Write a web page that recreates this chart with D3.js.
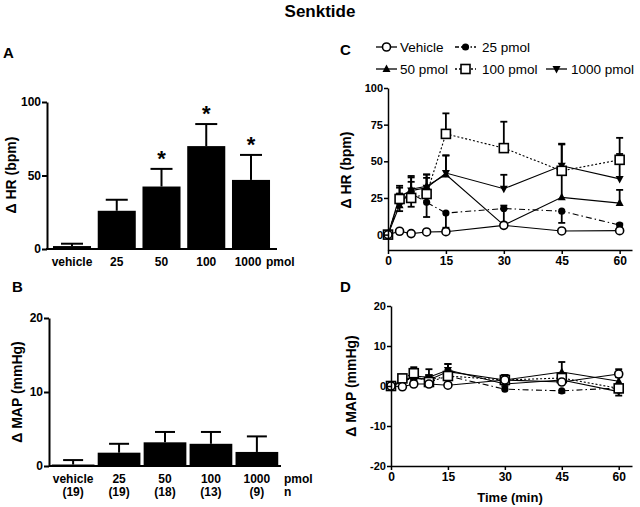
<!DOCTYPE html>
<html><head><meta charset="utf-8">
<script src="https://cdn.jsdelivr.net/npm/d3@7/dist/d3.min.js"></script>
<style>body{margin:0;background:#fff}svg{display:block;font-family:"Liberation Sans",Arial,sans-serif}</style>
</head><body><svg id="c" width="640" height="507"></svg>
<script>
// ---------- data ----------
const doseCats = ["vehicle", "25", "50", "100", "1000"];
const hrMean = [2, 26, 42.5, 70, 47];
const hrSem = [1.6, 7.5, 12, 15, 17];
const hrSig = [false, false, true, true, true];
const mapMean = [0.2, 1.8, 3.2, 3.0, 1.9];
const mapSem = [0.6, 1.2, 1.4, 1.6, 2.1];
const nLabels = ["(19)", "(19)", "(18)", "(13)", "(9)"];

const times = [0, 3, 6, 10, 15, 30, 45, 60];
const seriesNames = ["Vehicle", "25 pmol", "50 pmol", "100 pmol", "1000 pmol"];
// HR time course (signed error: negative = drawn downward)
const hrVehicle = [0, 2.3, 0.7, 1.8, 2, 6.3, 2.5, 2.7];
const hrVehicleErr = [0, 1, 1, 1.5, 1.5, 2, 1, 1];
const hr25 = [0, 22, 28, 22, 14.7, 17.8, 16, 6.5];
const hr25Err = [0, 6, 8, -10, -10, 2, -8, 1];
const hr50 = [0, 20, 31, 33, 41, 6.5, 25.4, 21.5];
const hr50Err = [0, -4, 8, 8, 13, 11, 17, 9];
const hr100 = [0, 24.3, 25, 27.7, 68.7, 59, 43.5, 51];
const hr100Err = [0, 9, -6, 11, 14, 18, 18, 15];
const hr1000 = [0, 26, 30, 32, 42, 31.3, 47, 38];
const hr1000Err = [0, 6, 10, 9, 12, 9.5, 15, 17];
// MAP time course
const mapVehicle = [0, -0.2, 0.5, 0.5, 0.2, 1.5, 1.0, 3.0];
const mapVehicleErr = [0, 0.5, 0.8, 0.8, 0.6, 1.2, 1.0, 1.2];
const map25 = [0, 1.2, 2.0, 1.5, 2.5, -0.8, -1.2, -0.5];
const map25Err = [0, 0.8, 1, 1, 1, 0.8, -0.5, 0.8];
const map50 = [0, 1.5, 2.2, 1.5, 3.6, 1.5, 3.5, 1.2];
const map50Err = [0, 0.8, 1, 1.2, 1.9, 1.2, 2.5, 1];
const map100 = [0, 1.9, 3.2, 1.0, 2.5, 1.5, 2.0, -0.6];
const map100Err = [0, 0.8, 1.5, 1.2, 1.5, 1.2, 1.2, -1];
const map1000 = [0, 1.0, 2.5, 2.2, 4.0, 0.5, 1.5, -1.4];
const map1000Err = [0, 0.8, 1.5, 2, 1.5, 1, 1.5, -1];

const hrTicksA = [0, 50, 100];
const mapTicksB = [0, 10, 20];
const hrTicksC = [0, 25, 50, 75, 100];
const mapTicksD = [-20, -10, 0, 10, 20];
const timeTicks = [0, 15, 30, 45, 60];

// ---------- setup ----------
const svg = d3.select("#c");
const fmt = d => String(d);
const styles = [
  {sym: "circleOpen", dash: null},
  {sym: "circleFilled", dash: "6,3,1.5,3"},
  {sym: "triUp", dash: null},
  {sym: "squareOpen", dash: "2,2"},
  {sym: "triDown", dash: null}
];
const hrSeries = [[hrVehicle, hrVehicleErr], [hr25, hr25Err], [hr50, hr50Err], [hr100, hr100Err], [hr1000, hr1000Err]];
const mapSeries = [[mapVehicle, mapVehicleErr], [map25, map25Err], [map50, map50Err], [map100, map100Err], [map1000, map1000Err]];

svg.append("text").attr("x", 320).attr("y", 17).attr("text-anchor", "middle")
  .attr("font-size", 17).attr("font-weight", "bold").text("Senktide");

function panelLabel(t, x, y) {
  svg.append("text").attr("x", x).attr("y", y).attr("font-size", 15).attr("font-weight", "bold").text(t);
}
function yTitle(t, x, y, fs) {
  svg.append("text").attr("transform", `translate(${x},${y}) rotate(-90)`).attr("text-anchor", "middle")
    .attr("font-size", fs).attr("font-weight", "bold").text(t);
}
function styleAxis(g, fs, sw) {
  g.selectAll("path.domain").attr("stroke", "#000").attr("stroke-width", sw);
  g.selectAll(".tick line").attr("stroke", "#000").attr("stroke-width", sw);
  g.selectAll(".tick text").attr("font-size", fs).attr("font-weight", "bold").attr("fill", "#000")
    .attr("font-family", "Liberation Sans, Arial, sans-serif");
}

// ---------- Panel A ----------
panelLabel("A", 3, 58);
const xA = d3.scaleBand().domain(doseCats).range([46, 277]).paddingInner(0.15).paddingOuter(0.156);
const yA = d3.scaleLinear().domain([0, 100]).range([249, 102]);
const gA = svg.append("g");
gA.selectAll("rect").data(doseCats).join("rect")
  .attr("x", d => xA(d)).attr("width", xA.bandwidth())
  .attr("y", (d, i) => yA(hrMean[i])).attr("height", (d, i) => yA(0) - yA(hrMean[i])).attr("fill", "#000");
doseCats.forEach((d, i) => {
  const cx = xA(d) + xA.bandwidth() / 2, hw = 11;
  gA.append("line").attr("x1", cx).attr("x2", cx).attr("y1", yA(hrMean[i])).attr("y2", yA(hrMean[i] + hrSem[i])).attr("stroke", "#000").attr("stroke-width", 2);
  gA.append("line").attr("x1", cx - hw).attr("x2", cx + hw).attr("y1", yA(hrMean[i] + hrSem[i])).attr("y2", yA(hrMean[i] + hrSem[i])).attr("stroke", "#000").attr("stroke-width", 2);
  if (hrSig[i]) gA.append("text").attr("x", cx).attr("y", yA(hrMean[i] + hrSem[i]) - 3).attr("text-anchor", "middle")
    .attr("font-size", 22).attr("font-weight", "bold").text("*");
  gA.append("text").attr("x", i === 4 ? cx - 3 : cx).attr("y", 266).attr("text-anchor", "middle").attr("font-size", 12).attr("font-weight", "bold").text(d);
});
gA.append("text").attr("x", 266).attr("y", 266).attr("font-size", 12).attr("font-weight", "bold").text("pmol");
const axA = svg.append("g").attr("transform", "translate(47,0)").call(d3.axisLeft(yA).tickValues(hrTicksA).tickFormat(fmt).tickSize(5).tickSizeOuter(0).tickPadding(1));
styleAxis(axA, 12, 2);
svg.append("line").attr("x1", 46).attr("x2", 277).attr("y1", yA(0)).attr("y2", yA(0)).attr("stroke", "#000").attr("stroke-width", 2);
yTitle("\u0394 HR (bpm)", 16, 175, 14);

// ---------- Panel B ----------
panelLabel("B", 12, 292);
const xB = d3.scaleBand().domain(doseCats).range([49, 281]).paddingInner(0.07).paddingOuter(0.06);
const yB = d3.scaleLinear().domain([0, 20]).range([466, 318]);
const gB = svg.append("g");
gB.selectAll("rect").data(doseCats).join("rect")
  .attr("x", d => xB(d)).attr("width", xB.bandwidth())
  .attr("y", (d, i) => yB(mapMean[i])).attr("height", (d, i) => yB(0) - yB(mapMean[i])).attr("fill", "#000");
doseCats.forEach((d, i) => {
  const cx = xB(d) + xB.bandwidth() / 2, hw = 10;
  gB.append("line").attr("x1", cx).attr("x2", cx).attr("y1", yB(mapMean[i])).attr("y2", yB(mapMean[i] + mapSem[i])).attr("stroke", "#000").attr("stroke-width", 2);
  gB.append("line").attr("x1", cx - hw).attr("x2", cx + hw).attr("y1", yB(mapMean[i] + mapSem[i])).attr("y2", yB(mapMean[i] + mapSem[i])).attr("stroke", "#000").attr("stroke-width", 2);
  gB.append("text").attr("x", cx).attr("y", 483).attr("text-anchor", "middle").attr("font-size", 12).attr("font-weight", "bold").text(d);
  gB.append("text").attr("x", cx).attr("y", 496).attr("text-anchor", "middle").attr("font-size", 12).attr("font-weight", "bold").text(nLabels[i]);
});
gB.append("text").attr("x", 284).attr("y", 483).attr("font-size", 12).attr("font-weight", "bold").text("pmol");
gB.append("text").attr("x", 284).attr("y", 496).attr("font-size", 12).attr("font-weight", "bold").text("n");
const axB = svg.append("g").attr("transform", "translate(49,0)").call(d3.axisLeft(yB).tickValues(mapTicksB).tickFormat(fmt).tickSize(5).tickSizeOuter(0).tickPadding(1));
styleAxis(axB, 12, 2);
svg.append("line").attr("x1", 49).attr("x2", 281).attr("y1", yB(0)).attr("y2", yB(0)).attr("stroke", "#000").attr("stroke-width", 2);
yTitle("\u0394 MAP (mmHg)", 22, 392, 14);

// ---------- line panels ----------
function marker(g, sym, x, y) {
  const s = "#000";
  if (sym === "circleOpen") g.append("circle").attr("cx", x).attr("cy", y).attr("r", 4).attr("fill", "#fff").attr("stroke", s).attr("stroke-width", 1.6);
  else if (sym === "circleFilled") g.append("circle").attr("cx", x).attr("cy", y).attr("r", 3.6).attr("fill", s);
  else if (sym === "squareOpen") g.append("rect").attr("x", x - 4.5).attr("y", y - 4.5).attr("width", 9).attr("height", 9).attr("fill", "#fff").attr("stroke", s).attr("stroke-width", 1.6);
  else if (sym === "triUp") g.append("path").attr("d", `M${x},${y - 4.5}L${x + 4},${y + 3}L${x - 4},${y + 3}Z`).attr("fill", s);
  else if (sym === "triDown") g.append("path").attr("d", `M${x},${y + 4.5}L${x + 4},${y - 3}L${x - 4},${y - 3}Z`).attr("fill", s);
}
function linePanel(series, x, y) {
  const g = svg.append("g");
  const line = d3.line().x((d, i) => x(times[i])).y(d => y(d));
  series.forEach(([vals, errs], k) => {
    g.append("path").attr("d", line(vals)).attr("fill", "none").attr("stroke", "#000").attr("stroke-width", 1.1)
      .attr("stroke-dasharray", styles[k].dash);
  });
  series.forEach(([vals, errs], k) => {
    vals.forEach((v, i) => {
      if (!errs[i]) return;
      const cx = x(times[i]), y1 = y(v), y2 = y(v + errs[i]);
      g.append("line").attr("x1", cx).attr("x2", cx).attr("y1", y1).attr("y2", y2).attr("stroke", "#000").attr("stroke-width", 1.8);
      g.append("line").attr("x1", cx - 3.5).attr("x2", cx + 3.5).attr("y1", y2).attr("y2", y2).attr("stroke", "#000").attr("stroke-width", 1.8);
    });
  });
  [1, 2, 4, 3, 0].forEach(k => {
    series[k][0].forEach((v, i) => marker(g, styles[k].sym, x(times[i]), y(v)));
  });
}

// ---------- Panel C ----------
panelLabel("C", 340, 55);
const xC = d3.scaleLinear().domain([0, 63.2]).range([388, 632]);
const yC = d3.scaleLinear().domain([-10.5, 100]).range([250, 88]);
linePanel(hrSeries, xC, yC);
const axCy = svg.append("g").attr("transform", "translate(388,0)").call(d3.axisLeft(yC).tickValues(hrTicksC).tickFormat(fmt).tickSize(4).tickSizeOuter(0).tickPadding(1));
styleAxis(axCy, 11, 1.5);
const axCx = svg.append("g").attr("transform", "translate(0,250)").call(d3.axisBottom(xC).tickValues(timeTicks).tickFormat(fmt).tickSize(4).tickSizeOuter(0).tickPadding(2));
styleAxis(axCx, 12, 1.5);
yTitle("\u0394 HR (bpm)", 351, 170, 14);

// legend
const legendItems = [
  {k: 0, sx: 376, tx: 400, y: 47},
  {k: 1, sx: 455, tx: 482, y: 47},
  {k: 2, sx: 376, tx: 400, y: 69},
  {k: 3, sx: 455, tx: 482, y: 69},
  {k: 4, sx: 546, tx: 571, y: 69}
];
const gL = svg.append("g");
legendItems.forEach(it => {
  gL.append("line").attr("x1", it.sx).attr("x2", it.sx + 21).attr("y1", it.y).attr("y2", it.y).attr("stroke", "#000").attr("stroke-width", 1.3)
    .attr("stroke-dasharray", styles[it.k].dash ? (it.k === 3 ? "2,2" : "4,2,1.5,2") : null);
  marker(gL, styles[it.k].sym, it.sx + 10.5, it.y);
  gL.append("text").attr("x", it.tx).attr("y", it.y + 5).attr("font-size", 13.5).text(seriesNames[it.k]);
});

// ---------- Panel D ----------
panelLabel("D", 340, 292);
const xD = d3.scaleLinear().domain([0, 63.5]).range([391, 632]);
const yD = d3.scaleLinear().domain([-20, 20]).range([466, 306]);
linePanel(mapSeries, xD, yD);
const axDy = svg.append("g").attr("transform", "translate(391,0)").call(d3.axisLeft(yD).tickValues(mapTicksD).tickFormat(fmt).tickSize(4).tickSizeOuter(0).tickPadding(1));
styleAxis(axDy, 11, 1.5);
const axDx = svg.append("g").attr("transform", "translate(0,466)").call(d3.axisBottom(xD).tickValues(timeTicks).tickFormat(fmt).tickSize(4).tickSizeOuter(0).tickPadding(2));
styleAxis(axDx, 12, 1.5);
yTitle("\u0394 MAP (mmHg)", 356, 386, 14);
svg.append("text").attr("x", 510).attr("y", 502).attr("text-anchor", "middle").attr("font-size", 13).attr("font-weight", "bold").text("Time (min)");
</script></body></html>
